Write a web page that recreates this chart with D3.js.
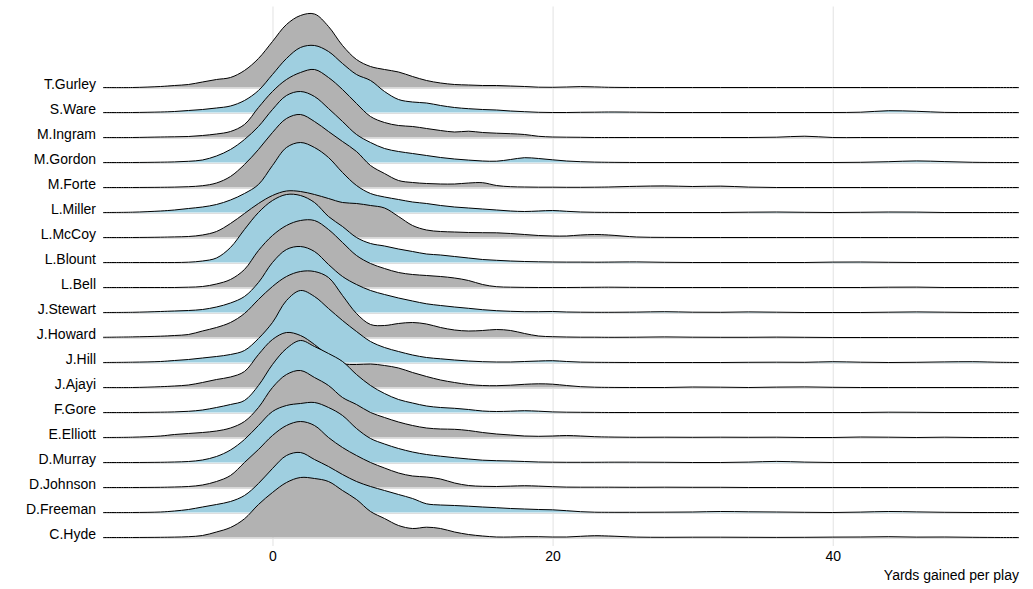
<!DOCTYPE html>
<html>
<head>
<meta charset="utf-8">
<script src="https://cdn.jsdelivr.net/npm/d3@7"></script>
<style>
  body { margin: 0; background: #fff; }
  text { font-family: "Liberation Sans", Arial, sans-serif; fill: #000; }
</style>
</head>
<body>
<svg id="chart" width="1033" height="589"></svg>
<script>
const yards = [-12.1, -10, -8, -7, -6, -5, -4, -3, -2, -1, 0, 1, 2, 3, 4, 5, 6, 7, 8, 9, 10, 11, 12, 13, 14, 15, 16,
  17, 18, 19, 20, 21, 22, 23, 24,
  26, 28, 30, 32, 34, 36, 38, 40, 42, 44, 46, 48, 50, 52,
  53.3];

// relative density per player, same order as `yards`
const gurley = [0, 0, 1, 2, 3, 5.5, 8, 10, 17, 29, 46, 63, 72, 73.5, 61, 42, 28, 21, 18, 15.5, 11, 7, 4.5, 3, 2.5, 2, 2,
  1.5, 1, 0.3, 0.2, 0.5, 0.9, 0.6, 0.2,
  0, 0, 0, 0, 0, 0, 0, 0, 0, 0, 0, 0, 0, 0,
  0];
const ware = [0, 0, 0.5, 1, 2, 3, 4.5, 6.5, 12, 22, 38, 54, 65, 67, 61, 49, 38, 32, 21, 13, 10.5, 9.5, 7, 5, 3.8, 3, 2.5,
  1.5, 0.8, 0.2, 0, 0, 0.2, 0.3, 0.5,
  0.3, 0, 0, 0, 0, 0, 0, 0, 0.3, 1.8, 1.2, 0.1, 0, 0,
  0];
const ingram = [0, 0, 0.5, 0.7, 1, 2, 3.5, 6, 13, 30, 46, 58, 65, 68, 60, 48, 34, 21, 15, 12, 11, 9, 7, 5.5, 6.3, 5, 4.3,
  3.8, 3, 1.2, 0.5, 0.3, 0.2, 0, 0,
  0, 0, 0, 0, 0, 0.3, 1.3, 0, 0, 0, 0, 0, 0, 0,
  0];
const gordon = [0, 0, 0.3, 0.6, 1.2, 2.5, 6.5, 13, 23, 36, 53, 67, 71, 66, 54, 41, 28, 20, 14, 11, 9, 7, 5, 3.5, 2.4, 1.5, 1.3,
  3, 4.8, 4, 2.7, 1.5, 0.8, 0.4, 0.2,
  0, 0, 0, 0, 0, 0, 0, 0, 0.2, 0.8, 1.6, 0.9, 0.2, 0,
  0];
const forte = [0, 0, 0.2, 0.4, 0.8, 1.8, 4.5, 11, 23, 38, 55, 69, 73, 66, 56, 46, 36, 22, 14, 7, 5, 4, 3.5, 3.5, 4.5, 4.8, 2,
  0.8, 0.5, 0.3, 0.3, 0.2, 0.2, 0.3, 0.5,
  1.2, 1.6, 1, 1.4, 0.4, 0, 0, 0, 0, 0, 0, 0, 0, 0,
  0];
const miller = [0, 0.3, 1.5, 2.5, 4, 5.5, 8, 12.5, 19, 28, 47, 65, 70, 65, 55, 40, 27, 19, 15.5, 13, 10.5, 9, 7, 5.5, 4.5, 3.5, 2.5,
  1.5, 1, 1.5, 2, 1.2, 0.5, 0.2, 0.1,
  0, 0, 0, 0, 0.3, 0.5, 0.2, 0, 0.2, 0.5, 0.4, 0, 0, 0,
  0];
const mccoy = [0, 0, 0.3, 0.6, 1, 2.5, 6, 14, 24, 34, 42, 46.5, 46, 43, 39, 35, 34, 32, 29.5, 21, 12, 7.5, 6, 5.5, 5, 4.8, 4.7,
  4, 3, 2, 1.5, 1.5, 2.5, 3, 2.5,
  0.5, 0.1, 0, 0, 0, 0, 0, 0, 0, 0, 0, 0, 0, 0,
  0];
const blount = [0, 0, 0, 0, 0.3, 1.5, 4.5, 15, 33, 50, 62, 68, 67, 60, 46, 36, 25, 19, 16.5, 13.5, 11, 8.5, 7.5, 6, 4.5, 3, 2.2,
  1.5, 1, 0.7, 0.5, 0.4, 0.4, 0.3, 0.4,
  0.6, 0.2, 0, 0, 0, 0, 0, 0.4, 0.5, 0.2, 0, 0, 0, 0,
  0];
const bell = [0, 0, 0, 0, 0.3, 1, 3.5, 8, 18, 37, 52, 62, 67, 67, 58, 45, 32, 24, 19, 15, 13, 12, 11, 9.5, 7, 3, 0.8,
  0.3, 0.1, 0, 0, 0, 0.1, 0.2, 0.3,
  0.1, 0, 0, 0, 0, 0, 0, 0, 0, 0.3, 0.4, 0, 0, 0,
  0];
const stewart = [0, 0.2, 1, 1.5, 2, 3, 5.5, 9.5, 16, 30, 50, 63, 66, 61, 48, 36, 28, 22, 18, 14.5, 11.5, 8.7, 7, 5.5, 4.2, 2.8, 1.8,
  1.2, 0.8, 0.8, 1, 0.5, 0.3, 0.2, 0.2,
  0.4, 0.8, 0.3, 0.2, 0.6, 0.3, 0, 0, 0, 0.3, 0.6, 0.3, 0, 0,
  0];
const howard = [0.2, 0.6, 1.3, 2, 3, 6.5, 10, 15, 24, 38, 51, 61, 66, 66, 60, 42, 24, 13, 12, 14, 15, 13.5, 10, 7.5, 6.5, 7, 8,
  7, 4, 1.5, 0.8, 0.5, 0.3, 0.3, 0.2,
  0.3, 0.6, 0.3, 0.2, 0.2, 0.4, 0.2, 0, 0, 0, 0, 0, 0, 0,
  0];
const hill = [0, 0.3, 1, 2, 3, 4.5, 6, 8, 12, 24, 40, 62, 72, 66, 54, 42, 31, 21, 15, 11, 7.5, 5, 3.7, 2.5, 1.5, 0.8, 0.5,
  0.5, 1, 1.5, 1.8, 1, 0.4, 0.2, 0.1,
  0, 0, 0, 0, 0.2, 0.3, 0.2, 0.8, 0.3, 0, 0.2, 0.6, 0.8, 0.2,
  0];
const ajayi = [0, 0, 0.8, 1.5, 2.5, 5, 8, 10.5, 16, 33, 48, 55, 52, 43, 32, 24, 23, 23.5, 22, 19.5, 15, 11, 7.5, 5, 3, 2, 1.8,
  2.3, 3.2, 3.7, 3.3, 2, 0.8, 0.3, 0.1,
  0, 0, 0.5, 0.3, 0, 0.4, 0.6, 0.2, 0, 0, 0, 0, 0, 0,
  0];
const gore = [0, 0, 0.3, 0.6, 1.2, 2.5, 5, 8, 12, 27, 48, 64, 72, 66, 59, 51, 38, 27, 19, 13, 9.5, 6.5, 5, 4.2, 3, 1.5, 1,
  1.3, 1.8, 1.3, 0.6, 0.3, 0.2, 0.1, 0,
  0, 0, 0, 0, 0, 0, 0, 0, 0, 0.3, 0.2, 0, 0, 0,
  0];
const elliott = [0, 0.3, 1.5, 3, 4, 5, 6.5, 9.5, 16, 30, 50, 63, 67, 60, 52, 40, 33, 25, 20, 15.5, 12, 9.5, 8.5, 8.2, 7, 5, 3.5,
  2.5, 1.5, 1.2, 1.5, 2, 1.5, 0.8, 0.5,
  0.2, 0.3, 0.2, 0.3, 0.2, 0.3, 0, 0, 0.5, 0.3, 0, 0.3, 0, 0,
  0];
const murray = [0, 0, 0.2, 0.5, 1, 2.5, 6, 12.5, 23, 37, 51, 57, 59, 60, 55, 47, 34, 24, 18.5, 14, 10.5, 8, 6.3, 4.8, 3.5, 2.3, 1.8,
  1.5, 1, 0.5, 0.3, 0.2, 0.2, 0.2, 0.3,
  0.3, 0.2, 0, 0, 0.4, 1.1, 0.4, 0, 0, 0, 0, 0, 0, 0,
  0];
const johnson = [0, 0, 0.2, 0.5, 1, 2.5, 6, 12, 25, 38, 52, 62, 66, 62, 50, 40, 32, 25, 19.5, 14.5, 11.5, 10.5, 8.5, 4.5, 2, 1.2, 1,
  1.4, 1.8, 1.4, 0.8, 0.4, 0.3, 0.3, 0.3,
  0.2, 0.3, 0.2, 0.2, 0, 0, 0, 0, 0, 0, 0, 0, 0, 0,
  0];
const freeman = [0, 0, 0.5, 1.5, 3, 5.5, 8, 11, 17, 29, 44, 57, 60, 53, 46, 38, 31, 26, 22, 18, 14, 8.7, 7.5, 7, 6.3, 5.5, 4.8,
  4, 3.5, 3, 2.7, 1.8, 0.8, 0.3, 0.2,
  0.2, 0.3, 0.5, 1, 0.7, 0.5, 0.2, 0, 0.4, 1, 0.6, 0.2, 0, 0,
  0];
const hyde = [0, 0, 0.2, 0.4, 0.8, 2, 5.5, 10, 18.7, 33, 45, 55, 60, 59, 56, 47, 38, 26, 19, 12, 9, 10.3, 9, 5.5, 3, 1.5, 0.5,
  0.5, 0.8, 0.8, 0.5, 0.5, 1.2, 1.8, 1.5,
  0.4, 0.2, 0.3, 0.3, 0.2, 0.1, 0.2, 0.4, 0.5, 0.8, 0.4, 0.5, 0.2, 0,
  0];

// top to bottom
const players = ["T.Gurley", "S.Ware", "M.Ingram", "M.Gordon", "M.Forte", "L.Miller", "L.McCoy", "L.Blount", "L.Bell",
  "J.Stewart", "J.Howard", "J.Hill", "J.Ajayi", "F.Gore", "E.Elliott", "D.Murray", "D.Johnson", "D.Freeman", "C.Hyde"];
const densities = [gurley, ware, ingram, gordon, forte, miller, mccoy, blount, bell,
  stewart, howard, hill, ajayi, gore, elliott, murray, johnson, freeman, hyde];

const xTicks = [0, 20, 40];
const fills = ["#b2b2b2", "#9fcfe0"];

const svg = d3.select("#chart");

const x = d3.scaleLinear().domain([-12.1, 53.3]).range([103, 1019]);
const y = d3.scalePoint().domain(players).range([87.5, 537.5]);
const h = d3.scaleLinear().domain([0, 75]).range([0, 75]);

const curve = d3.curveCatmullRom.alpha(0.5);

// grid
svg.append("g")
  .selectAll("line")
  .data(xTicks)
  .join("line")
  .attr("x1", d => x(d) + 0.5)
  .attr("x2", d => x(d) + 0.5)
  .attr("y1", 6.5)
  .attr("y2", 546)
  .attr("stroke", "#e2e2e2")
  .attr("stroke-width", 1);

svg.append("g")
  .selectAll("line")
  .data(players)
  .join("line")
  .attr("x1", x.range()[0])
  .attr("x2", x.range()[1])
  .attr("y1", d => y(d) + 1)
  .attr("y2", d => y(d) + 1)
  .attr("stroke", "#dedede")
  .attr("stroke-width", 1);

// ridges, back to front
const ridges = svg.append("g");

players.forEach((name, i) => {
  const base = y(name);
  const pts = yards.map((v, j) => [v, densities[i][j]]);
  const top = d => Math.min(base, base - h(d[1]));

  const area = d3.area()
    .x(d => x(d[0]))
    .y0(base)
    .y1(d => base - h(d[1]))
    .curve(curve);

  const line = d3.line()
    .x(d => x(d[0]))
    .y(d => base - h(d[1]))
    .curve(curve);

  const g = ridges.append("g");
  g.append("path")
    .attr("d", area(pts))
    .attr("fill", fills[i % 2]);
  g.append("path")
    .attr("d", line(pts))
    .attr("fill", "none")
    .attr("stroke", "#000")
    .attr("stroke-width", 1);
});

// y labels
const yAxis = svg.append("g")
  .attr("transform", `translate(${x.range()[0]},0)`)
  .call(d3.axisLeft(y).tickSize(0).tickPadding(7));
yAxis.select(".domain").remove();
yAxis.selectAll("text")
  .attr("dy", null)
  .attr("y", 1)
  .style("font-size", "14px")
  .style("font-family", "'Liberation Sans', Arial, sans-serif")
  .attr("fill", "#000");

// x axis
const xAxis = svg.append("g")
  .attr("transform", "translate(0,546)")
  .call(d3.axisBottom(x).tickValues(xTicks).tickSize(0).tickPadding(5).tickFormat(d3.format("d")));
xAxis.select(".domain").remove();
xAxis.selectAll("text")
  .attr("dy", null)
  .attr("y", 14.5)
  .style("font-size", "14px")
  .style("font-family", "'Liberation Sans', Arial, sans-serif")
  .attr("fill", "#000");

svg.append("text")
  .attr("x", 1019)
  .attr("y", 580)
  .attr("text-anchor", "end")
  .style("font-size", "14px")
  .text("Yards gained per play");
</script>
</body>
</html>
